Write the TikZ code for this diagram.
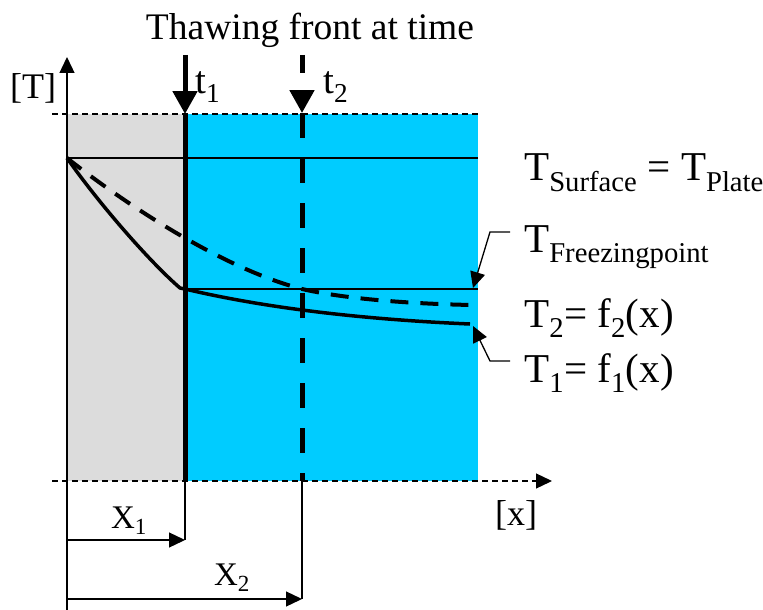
\documentclass[tikz,border=0pt]{standalone}
\usepackage{fontspec}
\setmainfont{Liberation Serif}
\usetikzlibrary{arrows.meta}
\definecolor{frozen}{RGB}{220,220,220}
\definecolor{thawed}{RGB}{0,204,255}
\newcommand{\titlesize}{\fontsize{37.5}{40}\selectfont}
\newcommand{\labelsize}{\fontsize{41}{44}\selectfont}
\newcommand{\axissize}{\fontsize{36}{38}\selectfont}
\newcommand{\timesize}{\fontsize{39}{42}\selectfont}
\newcommand{\distsize}{\fontsize{33}{36}\selectfont}
\begin{document}
\begin{tikzpicture}[x=1pt,y=-1pt,
    thinline/.style={line width=1.3pt},
    front/.style={line width=5pt},
    curve/.style={line width=3.5pt},
    bigtip/.style={-{Triangle[width=24pt,length=23pt]}},
    smalltip/.style={-{Triangle[width=15pt,length=16pt]}},
    txt/.style={inner sep=0pt,anchor=base west}]
    \useasboundingbox (0,0) rectangle (763,610);
    % regions
    \fill[frozen] (67,114) rectangle (185,481);
    \fill[thawed] (185,114) rectangle (478,481);
    % key points
    \coordinate (origin) at (67,481);
    \coordinate (tend) at (67,57);
    \coordinate (xend) at (552,481);
    \coordinate (surf) at (67,158);
    \coordinate (front1) at (185,481);
    \coordinate (front2) at (302,481);
    \coordinate (end1) at (470,324);
    \coordinate (end2) at (472,305);
    \coordinate (freeze) at (473,288);
    % axes
    \draw[thinline,smalltip] (67,610) -- (tend);
    \draw[thinline,dash pattern=on 6pt off 4pt] (52,114) -- (478,114);
    \draw[thinline,dash pattern=on 6pt off 4pt,smalltip] (52,481) -- (xend);
    \draw[thinline] (surf) -- (478,158);
    \draw[thinline] (180,289) -- (478,289);
    % thawing fronts
    \draw[front,bigtip] (185,55) -- (185,114);
    \draw[front] (185,114) -- (front1);
    \draw[front,dash pattern=on 18pt off 20pt,bigtip] (302,55) -- (302,113);
    \draw[front,dash pattern=on 25pt off 20pt] (302,113) -- (front2);
    % temperature profiles
    \draw[curve] (surf) .. controls (100,205) and (150,262) .. (180,288) -- (185,289) .. controls (240,302) and (330,318) .. (end1);
    \draw[curve,line width=4pt,dash pattern=on 18pt off 12pt] (surf) .. controls (120,200) and (220,268) .. (302,289) .. controls (350,300) and (420,304) .. (end2);
    % labels
    \node[inner sep=0pt,anchor=base] (title) at (310,40) {\titlesize Thawing front at time};
    \node[inner sep=0pt,anchor=base] (Tlab) at (33,99) {\axissize [T]};
    \node[inner sep=0pt,anchor=base] (xlab) at (516,525) {\axissize [x]};
    \node[txt] (t1) at (195,93) {\timesize t\textsubscript{1}};
    \node[txt] (t2) at (323,93) {\timesize t\textsubscript{2}};
    \node[txt] (surflab) at (524,180) {\labelsize T\textsubscript{Surface} = T\textsubscript{Plate}};
    \node[txt] (freezelab) at (524,252) {\labelsize T\textsubscript{Freezingpoint}};
    \node[txt] (T2lab) at (524,327) {\labelsize T\textsubscript{2}= f\textsubscript{2}(x)};
    \node[txt] (T1lab) at (524,382) {\labelsize T\textsubscript{1}= f\textsubscript{1}(x)};
    % leaders
    \draw[thinline,smalltip] (510,232) -- (490,232) -- (freeze);
    \draw[thinline,smalltip] (510,361) -- (490,361) -- (473,326);
    % distances
    \draw[thinline] (front1) -- (185,540);
    \draw[thinline] (front2) -- (302,599);
    \draw[thinline,smalltip] (67,540) -- (185,540);
    \draw[thinline,smalltip] (67,599) -- (302,599);
    \node[inner sep=0pt,anchor=base] (X1) at (129,528) {\distsize X\textsubscript{1}};
    \node[inner sep=0pt,anchor=base] (X2) at (232,585) {\distsize X\textsubscript{2}};
\end{tikzpicture}
\end{document}
